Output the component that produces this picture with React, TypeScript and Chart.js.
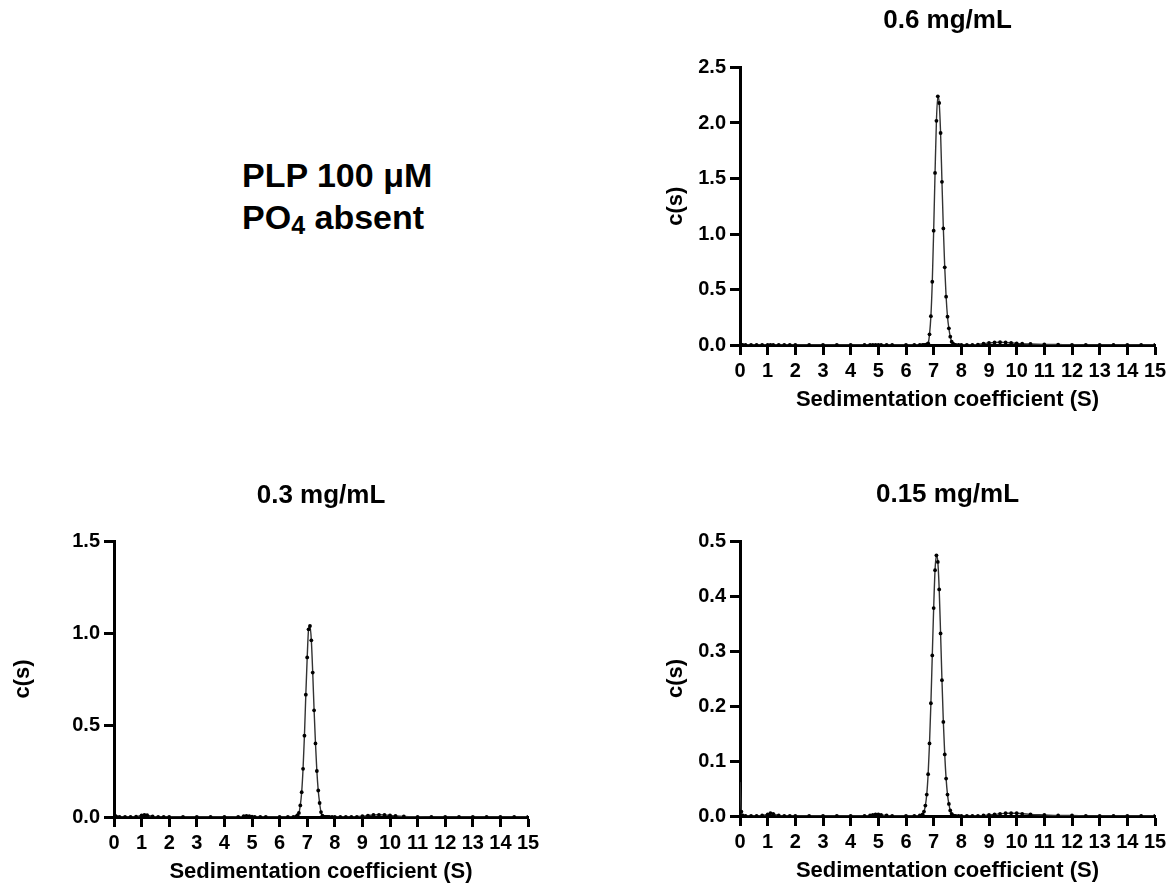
import React, { useEffect, useRef } from "react";
import { Chart, registerables } from "chart.js";

Chart.register(...registerables);

// Sedimentation coefficient grid (S)
const S_GRID = [
  0, 0.05, 0.1, 0.2, 0.4, 0.6, 0.8, 1.0, 1.1, 1.2, 1.4, 1.6, 1.8, 2.0,
  2.5, 3.0, 3.5, 4.0, 4.5, 4.7, 4.8, 4.9, 5.0, 5.1, 5.3, 5.5, 6.0, 6.3, 6.5,
  6.6, 6.65, 6.7, 6.75, 6.8, 6.85, 6.9, 6.95, 7.0, 7.05, 7.1, 7.15, 7.2, 7.25, 7.3, 7.35, 7.4, 7.45, 7.5, 7.55, 7.6, 7.65, 7.7, 7.75, 7.8,
  7.9, 8.0, 8.2, 8.4, 8.6, 8.8, 9.0, 9.2, 9.4, 9.6, 9.8, 10.0, 10.2, 10.5, 11.0, 11.5, 12.0, 12.5, 13.0, 13.5, 14.0, 14.5, 15.0,
];

// c(s) at 0.6 mg/mL
const C_06 = [
  0, 0, 0, 0, 0, 0, 0, 0, 0, 0, 0, 0, 0, 0,
  0, 0, 0, 0, 0, 0, 0, 0, 0, 0, 0, 0, 0, 0, 0,
  0, 0.001, 0.002, 0.005, 0.015, 0.096, 0.26, 0.57, 1.03, 1.55, 2.02, 2.24, 2.18, 1.91, 1.47, 1.05, 0.70, 0.435, 0.255, 0.15, 0.075, 0.03, 0.012, 0.004, 0.001,
  0, 0, 0, 0.001, 0.004, 0.012, 0.019, 0.023, 0.025, 0.023, 0.019, 0.015, 0.012, 0.009, 0.006, 0.004, 0.002, 0.001, 0, 0, 0, 0, 0,
];

// c(s) at 0.3 mg/mL
const C_03 = [
  0.018, 0.006, 0.001, 0, 0, 0, 0.002, 0.009, 0.012, 0.010, 0.003, 0.001, 0, 0,
  0, 0, 0, 0, 0.001, 0.004, 0.006, 0.005, 0.002, 0.001, 0, 0, 0, 0, 0.001,
  0.003, 0.01, 0.022, 0.063, 0.135, 0.262, 0.442, 0.665, 0.867, 1.02, 1.038, 0.96, 0.785, 0.58, 0.40, 0.25, 0.144, 0.076, 0.027, 0.008, 0.002, 0, 0, 0, 0,
  0, 0, 0, 0, 0, 0.001, 0.004, 0.008, 0.011, 0.012, 0.011, 0.009, 0.006, 0.003, 0.001, 0, 0, 0, 0, 0, 0, 0, 0,
];

// c(s) at 0.15 mg/mL
const C_015 = [
  0.065, 0.008, 0.001, 0, 0, 0, 0.001, 0.003, 0.005, 0.004, 0.001, 0, 0, 0,
  0, 0, 0, 0, 0, 0.001, 0.002, 0.003, 0.003, 0.002, 0.001, 0, 0, 0, 0.001,
  0.003, 0.008, 0.019, 0.039, 0.076, 0.132, 0.205, 0.292, 0.378, 0.447, 0.474, 0.462, 0.412, 0.332, 0.247, 0.171, 0.112, 0.068, 0.039, 0.022, 0.010, 0.004, 0.001, 0, 0,
  0, 0, 0, 0, 0, 0.001, 0.002, 0.003, 0.004, 0.005, 0.005, 0.005, 0.004, 0.003, 0.002, 0.001, 0.001, 0, 0, 0, 0, 0, 0,
];

const PANEL_TITLES = ["0.6 mg/mL", "0.3 mg/mL", "0.15 mg/mL"];
const X_TITLE = "Sedimentation coefficient (S)";
const Y_TITLE = "c(s)";
const X_MIN = 0;
const X_MAX = 15;
const X_STEP = 1;
const Y_MAX = [2.5, 1.5, 0.5];
const Y_STEP = [0.5, 0.5, 0.1];

const FONT = "'Liberation Sans', Arial, Helvetica, sans-serif";

type Layout = {
  left: number;
  top: number;
  width: number;
  height: number;
  padLeft: number;
  padRight: number;
  yWidth: number;
  xHeight: number;
  titleTop: number;
  titleBottom: number;
  yTitlePad: number;
  xTitlePad: number;
};

function Panel({ values, title, yMax, yStep, layout }: { values: number[]; title: string; yMax: number; yStep: number; layout: Layout }) {
  const ref = useRef<HTMLCanvasElement | null>(null);
  useEffect(() => {
    if (!ref.current) return;
    const pts = S_GRID.map((s, i) => ({ x: s, y: values[i] }));
    const chart = new Chart(ref.current, {
      type: "line",
      data: {
        datasets: [
          {
            data: pts,
            borderColor: "#333",
            borderWidth: 1.4,
            pointRadius: 1.9,
            pointBackgroundColor: "#000",
            pointBorderWidth: 0,
            pointHoverRadius: 1.9,
            cubicInterpolationMode: "monotone",
            fill: false,
          },
        ],
      },
      options: {
        animation: false,
        responsive: false,
        events: [],
        layout: {
          padding: { left: layout.padLeft, right: layout.padRight, top: 0, bottom: 0 },
        },
        plugins: {
          legend: { display: false },
          tooltip: { enabled: false },
          title: {
            display: true,
            text: title,
            color: "#000",
            fullSize: false,
            font: { family: FONT, size: 26, weight: "bold", lineHeight: 1.2 },
            padding: { top: layout.titleTop, bottom: layout.titleBottom },
          },
        },
        scales: {
          x: {
            type: "linear",
            min: X_MIN,
            max: X_MAX,
            afterFit: (scale: any) => {
              scale.height = layout.xHeight;
            },
            border: { display: true, color: "#000", width: 3 },
            grid: {
              display: true,
              drawOnChartArea: false,
              drawTicks: true,
              tickLength: 10,
              tickWidth: 3,
              tickColor: "#000",
              color: "#000",
            },
            ticks: {
              stepSize: X_STEP,
              autoSkip: false,
              maxRotation: 0,
              minRotation: 0,
              padding: 4,
              color: "#000",
              font: { family: FONT, size: 20, weight: "bold" },
              callback: (v: any) => String(v),
            },
            title: {
              display: true,
              text: X_TITLE,
              color: "#000",
              font: { family: FONT, size: 22, weight: "bold", lineHeight: 1.2 },
              padding: { top: 0, bottom: layout.xTitlePad },
            },
          },
          y: {
            type: "linear",
            min: 0,
            max: yMax,
            afterFit: (scale: any) => {
              scale.width = layout.yWidth;
            },
            border: { display: true, color: "#000", width: 3 },
            grid: {
              display: true,
              drawOnChartArea: false,
              drawTicks: true,
              tickLength: 10,
              tickWidth: 3,
              tickColor: "#000",
              color: "#000",
            },
            ticks: {
              stepSize: yStep,
              autoSkip: false,
              padding: 4,
              color: "#000",
              font: { family: FONT, size: 20, weight: "bold" },
              callback: (v: any) => Number(v).toFixed(1),
            },
            title: {
              display: true,
              text: Y_TITLE,
              color: "#000",
              font: { family: FONT, size: 22, weight: "bold", lineHeight: 1.2 },
              padding: { top: layout.yTitlePad, bottom: 0 },
            },
          },
        },
      },
    } as any);
    return () => chart.destroy();
  }, [values, title, yMax, yStep, layout]);
  return (
    <canvas
      ref={ref}
      width={layout.width}
      height={layout.height}
      style={{ position: "absolute", left: layout.left, top: layout.top, width: layout.width, height: layout.height }}
    />
  );
}

const LAYOUT_TR: Layout = {
  left: 620, top: 0, width: 554, height: 430,
  padLeft: 20, padRight: 19, yWidth: 100, xHeight: 85,
  titleTop: 5.4, titleBottom: 30.9, yTitlePad: 22.8, xTitlePad: 16.5,
};
const LAYOUT_BL: Layout = {
  left: 0, top: 440, width: 560, height: 450,
  padLeft: 0, padRight: 32, yWidth: 114, xHeight: 73,
  titleTop: 40.4, titleBottom: 29.4, yTitlePad: 9.5, xTitlePad: 4.5,
};
const LAYOUT_BR: Layout = {
  left: 620, top: 440, width: 554, height: 450,
  padLeft: 20, padRight: 19, yWidth: 100, xHeight: 74,
  titleTop: 39.4, titleBottom: 30.4, yTitlePad: 22.8, xTitlePad: 5.5,
};

export default function App() {
  return (
    <div style={{ position: "absolute", left: 0, top: 0, width: 1174, height: 890, background: "#fff", overflow: "hidden" }}>
      <div
        style={{
          position: "absolute",
          left: 242,
          top: 154,
          fontFamily: FONT,
          fontWeight: "bold",
          fontSize: 34,
          lineHeight: "42px",
          color: "#000",
          whiteSpace: "nowrap",
        }}
      >
        <div>PLP 100 μM</div>
        <div>
          PO<span style={{ fontSize: 25, position: "relative", top: 5, lineHeight: 0 }}>4</span> absent
        </div>
      </div>
      <Panel values={C_06} title={PANEL_TITLES[0]} yMax={Y_MAX[0]} yStep={Y_STEP[0]} layout={LAYOUT_TR} />
      <Panel values={C_03} title={PANEL_TITLES[1]} yMax={Y_MAX[1]} yStep={Y_STEP[1]} layout={LAYOUT_BL} />
      <Panel values={C_015} title={PANEL_TITLES[2]} yMax={Y_MAX[2]} yStep={Y_STEP[2]} layout={LAYOUT_BR} />
    </div>
  );
}
